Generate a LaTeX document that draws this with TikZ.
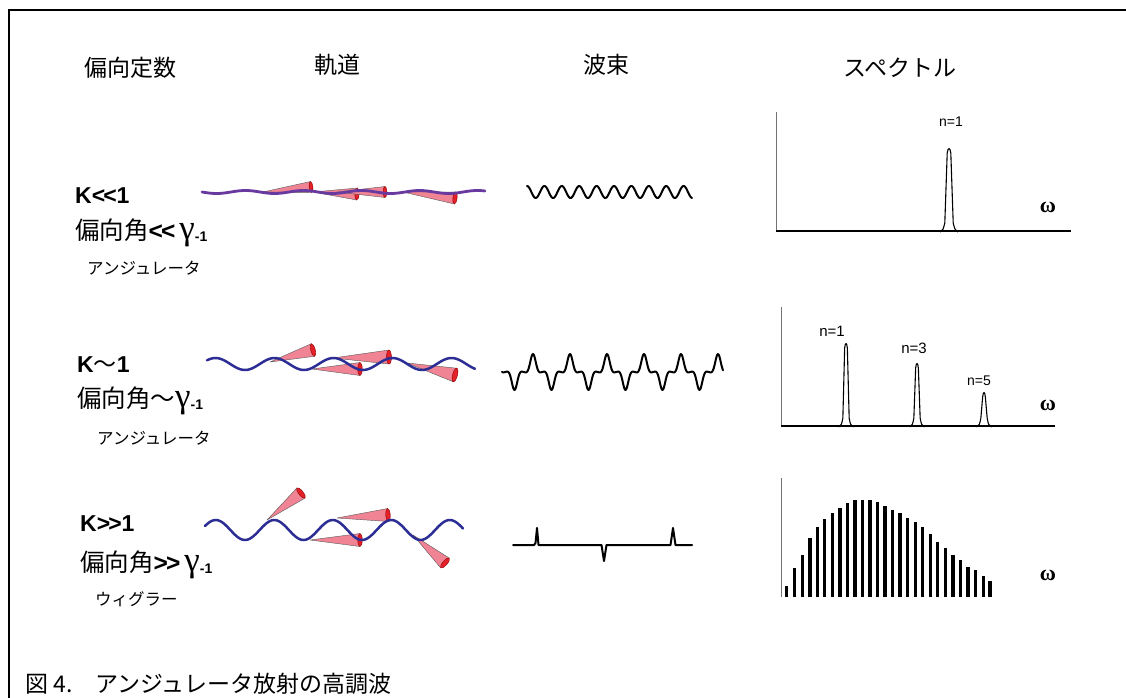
\documentclass[tikz,border=0pt]{standalone}
\usepackage{fontspec}
\setmainfont{Liberation Sans}
\newfontfamily\jpfont{Noto Sans CJK JP}
\newfontfamily\grkfont{Liberation Serif}
\usetikzlibrary{calc}

\definecolor{conepink}{RGB}{240,132,148}
\definecolor{conered}{RGB}{228,32,40}
\definecolor{orbitpurple}{RGB}{104,58,160}
\definecolor{orbitblue}{RGB}{44,46,150}

% beam cone: apex (x,y), base centre (x,y), base radius
\newcommand\beamcone[5]{%
  \pgfmathsetmacro\cdx{#3-(#1)}%
  \pgfmathsetmacro\cdy{#4-(#2)}%
  \pgfmathsetmacro\cang{atan2(-\cdy,\cdx)}%
  \pgfmathsetmacro\clen{veclen(\cdx,\cdy)}%
  \begin{scope}[shift={(#1,#2)},rotate=\cang]
    \filldraw[conebody] (0,0) -- (\clen,#5) -- (\clen,-#5) -- cycle;
    \filldraw[coneend] (\clen,0) ellipse [x radius={0.35*#5}, y radius=#5];
  \end{scope}}

% narrow spectral line: centre x, top y, base y, half width
\newcommand\specpeak[4]{%
  \draw[peakline] (#1-#4-3,#3+1) .. controls (#1-#4,#3-1) .. (#1-#4*0.7,#3-8)
    -- (#1-#4*0.3,#2+5) .. controls (#1-#4*0.15,#2-1) and (#1+#4*0.15,#2-1) .. (#1+#4*0.3,#2+5)
    -- (#1+#4*0.7,#3-8) .. controls (#1+#4,#3-1) .. (#1+#4+3,#3+1);}

\tikzset{
  conebody/.style={fill=conepink, draw=black!65, line width=0.4pt, line join=round},
  coneend/.style={fill=conered, draw=red!55!black, line width=0.4pt},
  orbit1/.style={draw=orbitpurple, line width=2.8pt, line cap=round},
  orbit2/.style={draw=orbitblue, line width=2.5pt, line cap=round},
  field/.style={draw=black, line width=2pt, line cap=round, line join=round},
  peakline/.style={draw=black, line width=1.1pt, line join=round},
  hdr/.style={font=\jpfont\fontsize{23}{23}\selectfont, inner sep=0pt},
  klab/.style={font=\bfseries\fontsize{23}{23}\selectfont, anchor=base west, inner sep=0pt},
  anglab/.style={font=\jpfont\fontsize{24.5}{24.5}\selectfont, anchor=base west, inner sep=0pt},
  kana/.style={font=\jpfont\fontsize{16.5}{16.5}\selectfont, anchor=base west, inner sep=0pt},
  nlab/.style={font=\fontsize{14}{14}\selectfont, inner sep=0pt},
  omlab/.style={font=\grkfont\bfseries\fontsize{22}{22}\selectfont, inner sep=0pt},
  yaxis/.style={draw=black!55, line width=0.8pt},
  xaxis/.style={draw=black, line width=1.3pt},
  bar/.style={draw=black, line width=3.4pt},
}

% gamma with a -1 index; chevron pairs kept apart so they do not merge into guillemets
\newcommand\gsub{{\grkfont\fontsize{35}{35}\selectfont γ}\raisebox{-2pt}{\normalfont\bfseries\fontsize{14}{14}\selectfont -1}}
\newcommand\lessless{<\kern-2pt<}
\newcommand\moremore{>\kern-2pt>}

\begin{document}
\begin{tikzpicture}[x=1pt,y=-1pt]
\useasboundingbox (0,0) rectangle (1126,698);
\fill[white] (0,0) rectangle (1126,698);

% frame
\draw[line width=1.5pt] (9,698) -- (9,10) -- (1126,10);

% column headings
\node[hdr] (h1) at (130,68) {偏向定数};
\node[hdr] (h2) at (337,65) {軌道};
\node[hdr] (h3) at (606,65) {波束};
\node[hdr] (h4) at (900,68) {スペクトル};

% row labels
\node[klab] (k1) at (75,203) {K\lessless 1};
\node[anglab] (a1) at (75,239) {偏向角{\normalfont\bfseries \lessless}\,\gsub};
\node[kana] (u1) at (87,274) {アンジュレータ};

\node[klab] (k2) at (77,372) {K{\jpfont\mdseries ～}1};
\node[anglab] (a2) at (77,407) {偏向角～\gsub};
\node[kana] (u2) at (97,444) {アンジュレータ};

\node[klab] (k3) at (80,531) {K\moremore 1};
\node[anglab] (a3) at (80,571) {偏向角{\normalfont\bfseries \moremore}\,\gsub};
\node[kana] (w3) at (95,605) {ウィグラー};

% orbits with emission cones
\beamcone{263}{192}{311}{187}{5.5}
\beamcone{313}{192}{357}{194}{6}
\beamcone{337}{192}{385}{192}{5.5}
\beamcone{403}{192}{455}{198}{6}
\draw[orbit1] plot[domain=202:485, samples=120, smooth] (\x,{192+1.5*sin((\x-202)/58*360)});

\beamcone{270}{362}{313}{350}{6.5}
\beamcone{312}{369}{360}{369}{6.5}
\beamcone{333}{358}{389}{357}{7}
\beamcone{407}{363}{455}{375}{7}
\draw[orbit2] plot[domain=207:475, samples=140, smooth] (\x,{364+6*cos((\x-245)/59*360)});

\beamcone{267}{520}{301}{493}{6.5}
\beamcone{337}{518}{388}{515}{6.5}
\beamcone{310}{540}{360}{540}{6.5}
\beamcone{413}{535}{445}{563}{6.5}
\draw[orbit2] plot[domain=205:463, samples=140, smooth] (\x,{530+10*cos((\x-245)/58.5*360)});

% radiated fields
\draw[field] plot[domain=527:692, samples=240, smooth] (\x,{192-6*cos((\x-527)/17.4*360)});
\draw[field] plot[domain=502:723, samples=360, smooth]
  (\x,{372-10.9*(cos((\x-533)*9.73)+0.55*cos(3*(\x-533)*9.73)+0.1*cos(5*(\x-533)*9.73))});
\draw[field] (513,545) -- (534,545) -- (535.5,543) -- (537,528) -- (538.5,545) -- (601.5,545)
  -- (604,561) -- (606.5,545) -- (670.5,545) -- (673,528) -- (675.5,545) -- (692,545);

% spectrum, K<<1
\draw[yaxis] (776,112) -- (776,231);
\draw[xaxis] (776,231) -- (1071,231);
\specpeak{949}{148}{231}{6}
\node[nlab] (n11) at (951,122) {n=1};
\node[omlab] (om1) at (1048,207) {ω};

% spectrum, K~1
\draw[yaxis] (781,307) -- (781,426);
\draw[xaxis] (781,426) -- (1055,426);
\specpeak{846}{343}{426}{4.5}
\specpeak{917}{363}{426}{4.5}
\specpeak{984}{392}{426}{4.5}
\node[nlab,font=\fontsize{15}{15}\selectfont] (n21) at (832,331) {n=1};
\node[nlab,font=\fontsize{15}{15}\selectfont] (n23) at (914,348) {n=3};
\node[nlab,font=\fontsize{14}{14}\selectfont] (n25) at (979,381) {n=5};
\node[omlab] (om2) at (1048,405) {ω};

% spectrum, K>>1
\draw[yaxis] (781,478) -- (781,597);
\foreach \bx/\by in {786.7/586, 794.3/568.3, 802.3/555, 810/538.3, 817.3/526.7, 824.3/519.3,
  832.3/512.7, 840/507.7, 847.7/503.3, 855/500, 862.7/500, 870/500, 877.3/502.3, 885/506,
  892.7/510, 900/513.3, 907.7/518.3, 915.3/521.7, 922.7/526.7, 930.3/534.3, 937.7/541.7,
  945.3/548.3, 953/555, 960.3/560, 968/566.7, 975.7/570, 983.3/576, 990/580.7}
  \draw[bar] (\bx,597) -- (\bx,\by);
\node[omlab] (om3) at (1048,575) {ω};

% caption
\node[font=\jpfont\fontsize{23}{23}\selectfont, anchor=base west, inner sep=0pt] (cap) at (25,692)
  {図 4.　アンジュレータ放射の高調波};
\end{tikzpicture}
\end{document}
